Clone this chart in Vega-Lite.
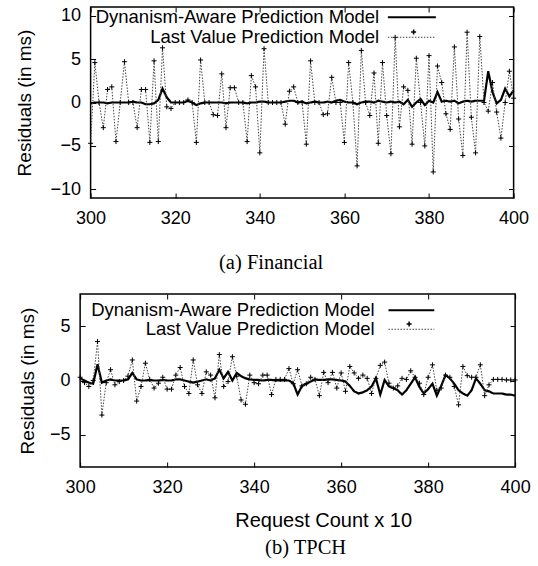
{
  "$schema": "https://vega.github.io/schema/vega-lite/v6.json",
  "padding": {"left": 14, "top": 5, "right": 5, "bottom": 5},
  "background": "white",
  "config": {
    "font": "Liberation Sans",
    "view": {"stroke": "black", "strokeWidth": 1.5},
    "axis": {
      "domain": false,
      "grid": false,
      "ticks": true,
      "tickSize": -5,
      "tickColor": "black",
      "tickWidth": 1,
      "minExtent": 0,
      "labelFont": "Liberation Sans",
      "labelFontSize": 18,
      "labelColor": "black",
      "labelFlush": false,
      "labelOverlap": false,
      "titleFont": "Liberation Sans",
      "titleFontSize": 19,
      "titleFontWeight": "normal",
      "titleColor": "black"
    },
    "axisX": {"labelPadding": 16},
    "axisY": {"labelPadding": 15}
  },
  "datasets": {
    "fin": [
      {"x":300,"s":"DA","v":-0.1},{"x":301,"s":"DA","v":0},{"x":302,"s":"DA","v":0},{"x":303,"s":"DA","v":0},{"x":304,"s":"DA","v":-0.1},
      {"x":305,"s":"DA","v":0},{"x":306,"s":"DA","v":0},{"x":307,"s":"DA","v":0},{"x":308,"s":"DA","v":0},{"x":309,"s":"DA","v":0},
      {"x":310,"s":"DA","v":0.1},{"x":311,"s":"DA","v":0},{"x":312,"s":"DA","v":0},{"x":313,"s":"DA","v":-0.2},{"x":314,"s":"DA","v":-0.2},
      {"x":315,"s":"DA","v":-0.1},{"x":316,"s":"DA","v":0.3},{"x":317,"s":"DA","v":1.6},{"x":318,"s":"DA","v":0.6},{"x":319,"s":"DA","v":0},
      {"x":320,"s":"DA","v":0},{"x":321,"s":"DA","v":0},{"x":322,"s":"DA","v":0},{"x":323,"s":"DA","v":0.2},{"x":324,"s":"DA","v":0},
      {"x":325,"s":"DA","v":-0.3},{"x":326,"s":"DA","v":-0.1},{"x":327,"s":"DA","v":0},{"x":328,"s":"DA","v":0},{"x":329,"s":"DA","v":0},
      {"x":330,"s":"DA","v":0},{"x":331,"s":"DA","v":0},{"x":332,"s":"DA","v":-0.1},{"x":333,"s":"DA","v":0},{"x":334,"s":"DA","v":0},
      {"x":335,"s":"DA","v":0},{"x":336,"s":"DA","v":0},{"x":337,"s":"DA","v":-0.1},{"x":338,"s":"DA","v":0},{"x":339,"s":"DA","v":0},
      {"x":340,"s":"DA","v":0.1},{"x":341,"s":"DA","v":0.1},{"x":342,"s":"DA","v":0},{"x":343,"s":"DA","v":0},{"x":344,"s":"DA","v":0},
      {"x":345,"s":"DA","v":0},{"x":346,"s":"DA","v":0.1},{"x":347,"s":"DA","v":0.2},{"x":348,"s":"DA","v":0.2},{"x":349,"s":"DA","v":0},
      {"x":350,"s":"DA","v":0.1},{"x":351,"s":"DA","v":-0.1},{"x":352,"s":"DA","v":0},{"x":353,"s":"DA","v":0.1},{"x":354,"s":"DA","v":0},
      {"x":355,"s":"DA","v":0},{"x":356,"s":"DA","v":0.1},{"x":357,"s":"DA","v":0},{"x":358,"s":"DA","v":0.2},{"x":359,"s":"DA","v":0.3},
      {"x":360,"s":"DA","v":0.1},{"x":361,"s":"DA","v":0},{"x":362,"s":"DA","v":0},{"x":363,"s":"DA","v":-0.2},{"x":364,"s":"DA","v":0},
      {"x":365,"s":"DA","v":0.1},{"x":366,"s":"DA","v":0.1},{"x":367,"s":"DA","v":0},{"x":368,"s":"DA","v":0.2},{"x":369,"s":"DA","v":0.1},
      {"x":370,"s":"DA","v":0},{"x":371,"s":"DA","v":0.1},{"x":372,"s":"DA","v":0},{"x":373,"s":"DA","v":0.1},{"x":374,"s":"DA","v":-0.2},
      {"x":375,"s":"DA","v":0.3},{"x":376,"s":"DA","v":-0.5},{"x":377,"s":"DA","v":0},{"x":378,"s":"DA","v":0.4},{"x":379,"s":"DA","v":-0.3},
      {"x":380,"s":"DA","v":0.2},{"x":381,"s":"DA","v":0},{"x":382,"s":"DA","v":1.2},{"x":383,"s":"DA","v":0.1},{"x":384,"s":"DA","v":0.2},
      {"x":385,"s":"DA","v":0.1},{"x":386,"s":"DA","v":0.2},{"x":387,"s":"DA","v":-0.1},{"x":388,"s":"DA","v":0.1},{"x":389,"s":"DA","v":0.2},
      {"x":390,"s":"DA","v":0.1},{"x":391,"s":"DA","v":0.2},{"x":392,"s":"DA","v":0.2},{"x":393,"s":"DA","v":0.2},{"x":394,"s":"DA","v":3.6},
      {"x":395,"s":"DA","v":1.2},{"x":396,"s":"DA","v":-0.1},{"x":397,"s":"DA","v":0.3},{"x":398,"s":"DA","v":1.6},{"x":399,"s":"DA","v":0.7},
      {"x":400,"s":"DA","v":1.4},
      {"x":300,"s":"LV","v":-4.7},{"x":301,"s":"LV","v":4.6},{"x":302,"s":"LV","v":0},{"x":303,"s":"LV","v":-2.9},{"x":304,"s":"LV","v":1.5},
      {"x":305,"s":"LV","v":1.8},{"x":306,"s":"LV","v":-4.5},{"x":307,"s":"LV","v":0},{"x":308,"s":"LV","v":4.7},{"x":309,"s":"LV","v":0},
      {"x":310,"s":"LV","v":0},{"x":311,"s":"LV","v":-2.9},{"x":312,"s":"LV","v":1.5},{"x":313,"s":"LV","v":1.5},{"x":314,"s":"LV","v":-4.6},
      {"x":315,"s":"LV","v":4.8},{"x":316,"s":"LV","v":-4.5},{"x":317,"s":"LV","v":6.3},{"x":318,"s":"LV","v":-0.5},{"x":319,"s":"LV","v":-0.7},
      {"x":320,"s":"LV","v":0},{"x":321,"s":"LV","v":0},{"x":322,"s":"LV","v":0},{"x":323,"s":"LV","v":0.3},{"x":324,"s":"LV","v":0},
      {"x":325,"s":"LV","v":-4.6},{"x":326,"s":"LV","v":4.9},{"x":327,"s":"LV","v":0},{"x":328,"s":"LV","v":0},{"x":329,"s":"LV","v":-1.4},
      {"x":330,"s":"LV","v":-1.5},{"x":331,"s":"LV","v":3.3},{"x":332,"s":"LV","v":-2.9},{"x":333,"s":"LV","v":1.7},{"x":334,"s":"LV","v":1.7},
      {"x":335,"s":"LV","v":0},{"x":336,"s":"LV","v":0},{"x":337,"s":"LV","v":-4.5},{"x":338,"s":"LV","v":3.1},{"x":339,"s":"LV","v":1.8},
      {"x":340,"s":"LV","v":-5.8},{"x":341,"s":"LV","v":6.2},{"x":342,"s":"LV","v":0},{"x":343,"s":"LV","v":0},{"x":344,"s":"LV","v":0},
      {"x":345,"s":"LV","v":0},{"x":346,"s":"LV","v":-2.5},{"x":347,"s":"LV","v":1.3},{"x":348,"s":"LV","v":1.8},{"x":349,"s":"LV","v":0},
      {"x":350,"s":"LV","v":0},{"x":351,"s":"LV","v":-4.8},{"x":352,"s":"LV","v":4.8},{"x":353,"s":"LV","v":0},{"x":354,"s":"LV","v":0},
      {"x":355,"s":"LV","v":-1.4},{"x":356,"s":"LV","v":-1.3},{"x":357,"s":"LV","v":2.9},{"x":358,"s":"LV","v":0},{"x":359,"s":"LV","v":0},
      {"x":360,"s":"LV","v":-4.6},{"x":361,"s":"LV","v":4.6},{"x":362,"s":"LV","v":0},{"x":363,"s":"LV","v":-7.3},{"x":364,"s":"LV","v":6.0},
      {"x":365,"s":"LV","v":0},{"x":366,"s":"LV","v":-1.5},{"x":367,"s":"LV","v":3.4},{"x":368,"s":"LV","v":-4.7},{"x":369,"s":"LV","v":4.6},
      {"x":370,"s":"LV","v":-1.5},{"x":371,"s":"LV","v":-5.9},{"x":372,"s":"LV","v":7.5},{"x":373,"s":"LV","v":-2.8},{"x":374,"s":"LV","v":1.8},
      {"x":375,"s":"LV","v":1.4},{"x":376,"s":"LV","v":-4.8},{"x":377,"s":"LV","v":5.1},{"x":378,"s":"LV","v":0},{"x":379,"s":"LV","v":-5.0},
      {"x":380,"s":"LV","v":5.4},{"x":381,"s":"LV","v":-8.0},{"x":382,"s":"LV","v":4.2},{"x":383,"s":"LV","v":2.3},{"x":384,"s":"LV","v":-1.3},
      {"x":385,"s":"LV","v":-3.1},{"x":386,"s":"LV","v":6.4},{"x":387,"s":"LV","v":-1.9},{"x":388,"s":"LV","v":-6.1},{"x":389,"s":"LV","v":8.1},
      {"x":390,"s":"LV","v":-1.7},{"x":391,"s":"LV","v":-5.8},{"x":392,"s":"LV","v":7.6},{"x":393,"s":"LV","v":0},{"x":394,"s":"LV","v":-1.0},
      {"x":395,"s":"LV","v":2.3},{"x":396,"s":"LV","v":-1.1},{"x":397,"s":"LV","v":-4.1},{"x":398,"s":"LV","v":0},{"x":399,"s":"LV","v":3.6},
      {"x":400,"s":"LV","v":0.5}
    ],
    "tpch": [
      {"x":300,"s":"DA","v":0.2},{"x":301,"s":"DA","v":0},{"x":302,"s":"DA","v":-0.2},{"x":303,"s":"DA","v":-0.3},{"x":304,"s":"DA","v":1.5},
      {"x":305,"s":"DA","v":-0.2},{"x":306,"s":"DA","v":0},{"x":307,"s":"DA","v":0.1},{"x":308,"s":"DA","v":0},{"x":309,"s":"DA","v":0},
      {"x":310,"s":"DA","v":0},{"x":311,"s":"DA","v":0.1},{"x":312,"s":"DA","v":0.7},{"x":313,"s":"DA","v":0.1},{"x":314,"s":"DA","v":0},
      {"x":315,"s":"DA","v":0},{"x":316,"s":"DA","v":0.05},{"x":317,"s":"DA","v":0},{"x":318,"s":"DA","v":0},{"x":319,"s":"DA","v":0.05},
      {"x":320,"s":"DA","v":0},{"x":321,"s":"DA","v":0},{"x":322,"s":"DA","v":0.1},{"x":323,"s":"DA","v":0.1},{"x":324,"s":"DA","v":0},
      {"x":325,"s":"DA","v":-0.1},{"x":326,"s":"DA","v":-0.2},{"x":327,"s":"DA","v":-0.1},{"x":328,"s":"DA","v":0},{"x":329,"s":"DA","v":0.1},
      {"x":330,"s":"DA","v":0},{"x":331,"s":"DA","v":0.2},{"x":332,"s":"DA","v":1.0},{"x":333,"s":"DA","v":0.2},{"x":334,"s":"DA","v":0.8},
      {"x":335,"s":"DA","v":0},{"x":336,"s":"DA","v":0.7},{"x":337,"s":"DA","v":0.4},{"x":338,"s":"DA","v":0.2},{"x":339,"s":"DA","v":0.1},
      {"x":340,"s":"DA","v":0.05},{"x":341,"s":"DA","v":0.05},{"x":342,"s":"DA","v":0},{"x":343,"s":"DA","v":0.05},{"x":344,"s":"DA","v":0.05},
      {"x":345,"s":"DA","v":0},{"x":346,"s":"DA","v":0},{"x":347,"s":"DA","v":0},{"x":348,"s":"DA","v":0},{"x":349,"s":"DA","v":-0.25},
      {"x":350,"s":"DA","v":-1.3},{"x":351,"s":"DA","v":-0.5},{"x":352,"s":"DA","v":-0.3},{"x":353,"s":"DA","v":-0.1},{"x":354,"s":"DA","v":0.1},
      {"x":355,"s":"DA","v":0.05},{"x":356,"s":"DA","v":0.05},{"x":357,"s":"DA","v":0.1},{"x":358,"s":"DA","v":0.1},{"x":359,"s":"DA","v":0.05},
      {"x":360,"s":"DA","v":0},{"x":361,"s":"DA","v":-0.1},{"x":362,"s":"DA","v":-0.5},{"x":363,"s":"DA","v":-1.0},{"x":364,"s":"DA","v":-1.2},
      {"x":365,"s":"DA","v":-1.1},{"x":366,"s":"DA","v":-0.9},{"x":367,"s":"DA","v":-0.55},{"x":368,"s":"DA","v":0.2},{"x":369,"s":"DA","v":-1.3},
      {"x":370,"s":"DA","v":0.05},{"x":371,"s":"DA","v":-0.55},{"x":372,"s":"DA","v":-0.7},{"x":373,"s":"DA","v":-0.9},{"x":374,"s":"DA","v":-1.3},
      {"x":375,"s":"DA","v":-0.9},{"x":376,"s":"DA","v":-0.3},{"x":377,"s":"DA","v":0.3},{"x":378,"s":"DA","v":-0.6},{"x":379,"s":"DA","v":-1.2},
      {"x":380,"s":"DA","v":-0.8},{"x":381,"s":"DA","v":-0.3},{"x":382,"s":"DA","v":-1.4},{"x":383,"s":"DA","v":-0.5},{"x":384,"s":"DA","v":0.5},
      {"x":385,"s":"DA","v":0.2},{"x":386,"s":"DA","v":-0.3},{"x":387,"s":"DA","v":-0.9},{"x":388,"s":"DA","v":-1.2},{"x":389,"s":"DA","v":-1.4},
      {"x":390,"s":"DA","v":-0.9},{"x":391,"s":"DA","v":0.2},{"x":392,"s":"DA","v":-0.3},{"x":393,"s":"DA","v":-0.9},{"x":394,"s":"DA","v":-1.0},
      {"x":395,"s":"DA","v":-1.2},{"x":396,"s":"DA","v":-1.2},{"x":397,"s":"DA","v":-1.2},{"x":398,"s":"DA","v":-1.3},{"x":399,"s":"DA","v":-1.3},
      {"x":400,"s":"DA","v":-1.4},
      {"x":300,"s":"LV","v":0.3},{"x":301,"s":"LV","v":-0.2},{"x":302,"s":"LV","v":-0.55},{"x":303,"s":"LV","v":0},{"x":304,"s":"LV","v":3.6},
      {"x":305,"s":"LV","v":-3.2},{"x":306,"s":"LV","v":-0.2},{"x":307,"s":"LV","v":1.0},{"x":308,"s":"LV","v":-0.4},{"x":309,"s":"LV","v":-0.1},
      {"x":310,"s":"LV","v":0},{"x":311,"s":"LV","v":0.4},{"x":312,"s":"LV","v":1.9},{"x":313,"s":"LV","v":-1.9},{"x":314,"s":"LV","v":-0.55},
      {"x":315,"s":"LV","v":1.6},{"x":316,"s":"LV","v":0.1},{"x":317,"s":"LV","v":-0.7},{"x":318,"s":"LV","v":-0.25},{"x":319,"s":"LV","v":0.3},
      {"x":320,"s":"LV","v":-0.8},{"x":321,"s":"LV","v":-0.8},{"x":322,"s":"LV","v":0.5},{"x":323,"s":"LV","v":1.2},{"x":324,"s":"LV","v":-0.55},
      {"x":325,"s":"LV","v":-1.2},{"x":326,"s":"LV","v":1.9},{"x":327,"s":"LV","v":-0.4},{"x":328,"s":"LV","v":-1.2},{"x":329,"s":"LV","v":0.8},
      {"x":330,"s":"LV","v":0.5},{"x":331,"s":"LV","v":-1.6},{"x":332,"s":"LV","v":2.4},{"x":333,"s":"LV","v":-0.55},{"x":334,"s":"LV","v":-0.1},
      {"x":335,"s":"LV","v":2.2},{"x":336,"s":"LV","v":0.4},{"x":337,"s":"LV","v":-1.8},{"x":338,"s":"LV","v":-2.2},{"x":339,"s":"LV","v":0.5},
      {"x":340,"s":"LV","v":-0.2},{"x":341,"s":"LV","v":-0.3},{"x":342,"s":"LV","v":0.5},{"x":343,"s":"LV","v":0.5},{"x":344,"s":"LV","v":-1.3},
      {"x":345,"s":"LV","v":0.1},{"x":346,"s":"LV","v":0.1},{"x":347,"s":"LV","v":0.1},{"x":348,"s":"LV","v":1.1},{"x":349,"s":"LV","v":-0.3},
      {"x":350,"s":"LV","v":1.0},{"x":351,"s":"LV","v":-0.5},{"x":352,"s":"LV","v":-0.3},{"x":353,"s":"LV","v":0.3},{"x":354,"s":"LV","v":0.1},
      {"x":355,"s":"LV","v":-1.4},{"x":356,"s":"LV","v":0.75},{"x":357,"s":"LV","v":-0.2},{"x":358,"s":"LV","v":0.75},{"x":359,"s":"LV","v":-0.7},
      {"x":360,"s":"LV","v":0.7},{"x":361,"s":"LV","v":-1.0},{"x":362,"s":"LV","v":1.3},{"x":363,"s":"LV","v":0.7},{"x":364,"s":"LV","v":0.2},
      {"x":365,"s":"LV","v":0.5},{"x":366,"s":"LV","v":0.2},{"x":367,"s":"LV","v":-1.2},{"x":368,"s":"LV","v":0.2},{"x":369,"s":"LV","v":1.4},
      {"x":370,"s":"LV","v":1.7},{"x":371,"s":"LV","v":-0.25},{"x":372,"s":"LV","v":-0.7},{"x":373,"s":"LV","v":-0.5},{"x":374,"s":"LV","v":0.2},
      {"x":375,"s":"LV","v":0.1},{"x":376,"s":"LV","v":0.9},{"x":377,"s":"LV","v":0.3},{"x":378,"s":"LV","v":-0.25},{"x":379,"s":"LV","v":-1.3},
      {"x":380,"s":"LV","v":0.3},{"x":381,"s":"LV","v":1.45},{"x":382,"s":"LV","v":-0.9},{"x":383,"s":"LV","v":-0.7},{"x":384,"s":"LV","v":0.5},
      {"x":385,"s":"LV","v":0.3},{"x":386,"s":"LV","v":-0.55},{"x":387,"s":"LV","v":-2.25},{"x":388,"s":"LV","v":1.3},{"x":389,"s":"LV","v":0.45},
      {"x":390,"s":"LV","v":0.3},{"x":391,"s":"LV","v":0.3},{"x":392,"s":"LV","v":1.45},{"x":393,"s":"LV","v":-1.4},{"x":394,"s":"LV","v":-0.4},
      {"x":395,"s":"LV","v":0.1},{"x":396,"s":"LV","v":0.1},{"x":397,"s":"LV","v":0.1},{"x":398,"s":"LV","v":0.05},{"x":399,"s":"LV","v":0.05},
      {"x":400,"s":"LV","v":0.05}
    ]
  },
  "concat": [
    {
      "width": 423,
      "height": 191,
      "data": {"name": "fin"},
      "title": {"text": "(a) Financial", "orient": "bottom", "font": "Liberation Serif", "fontSize": 20.5, "fontWeight": "normal", "color": "black", "offset": 26, "dx": -31},
      "layer": [
        {
          "mark": {"type": "line", "strokeJoin": "miter"},
          "encoding": {
            "x": {"field": "x", "type": "quantitative", "scale": {"domain": [300, 400], "nice": false}, "axis": {"values": [300, 320, 340, 360, 380, 400], "title": null}},
            "y": {"field": "v", "type": "quantitative", "scale": {"domain": [-11, 11], "nice": false}, "axis": {"values": [-10, -5, 0, 5, 10], "title": "Residuals (in ms)", "titlePadding": 16}},
            "color": {"field": "s", "type": "nominal", "scale": {"domain": ["DA", "LV"], "range": ["#000000", "#444444"]},
              "legend": {"orient": "none", "legendX": 312, "legendY": 1, "title": null, "padding": 0, "rowPadding": 1, "symbolType": "M-5,0L5,0", "symbolSize": 92, "labelAlign": "right", "labelOffset": -42, "labelFontSize": 18.5, "labelFont": "Liberation Sans", "labelColor": "black", "labelLimit": 0,
                "labelExpr": "datum.value === 'DA' ? 'Dynanism-Aware Prediction Model' : 'Last Value Prediction Model'"}},
            "strokeDash": {"field": "s", "type": "nominal", "scale": {"domain": ["DA", "LV"], "range": [[1, 0], [1.5, 1.5]]}},
            "strokeWidth": {"field": "s", "type": "nominal", "scale": {"domain": ["DA", "LV"], "range": [2.2, 1]}}
          }
        },
        {
          "transform": [{"filter": "datum.s === 'LV'"}],
          "mark": {"type": "point", "filled": false, "stroke": "black", "strokeWidth": 1, "opacity": 1},
          "encoding": {
            "x": {"field": "x", "type": "quantitative", "axis": null},
            "y": {"field": "v", "type": "quantitative", "axis": null},
            "shape": {"field": "s", "type": "nominal", "scale": {"domain": ["LV"], "range": ["M-1,0L1,0M0,-1L0,1"]},
              "legend": {"orient": "none", "legendX": 318, "legendY": 20, "title": null, "padding": 0, "symbolSize": 25, "symbolStrokeColor": "black", "labelExpr": "''"}},
            "size": {"value": 25}
          }
        },
        {
          "mark": {"type": "line", "opacity": 0},
          "encoding": {
            "x": {"field": "x", "type": "quantitative", "axis": {"orient": "top", "labels": false, "title": null, "values": [300, 320, 340, 360, 380, 400]}},
            "y": {"field": "v", "type": "quantitative", "axis": {"orient": "right", "labels": false, "title": null, "values": [-10, -5, 0, 5, 10], "minExtent": 0}}
          }
        }
      ],
      "resolve": {"axis": {"x": "independent", "y": "independent"}}
    },
    {
      "width": 435,
      "height": 173,
      "data": {"name": "tpch"},
      "title": {"text": "(b) TPCH", "orient": "bottom", "font": "Liberation Serif", "fontSize": 20.5, "fontWeight": "normal", "color": "black", "offset": 8, "dx": 8},
      "layer": [
        {
          "mark": {"type": "line", "strokeJoin": "miter"},
          "encoding": {
            "x": {"field": "x", "type": "quantitative", "scale": {"domain": [300, 400], "nice": false}, "axis": {"values": [300, 320, 340, 360, 380, 400], "title": "Request Count x 10", "titleFontSize": 20, "titlePadding": 14, "titleX": 243}},
            "y": {"field": "v", "type": "quantitative", "scale": {"domain": [-8, 8], "nice": false}, "axis": {"values": [-5, 0, 5], "title": "Residuals (in ms)", "titlePadding": 12}},
            "color": {"field": "s", "type": "nominal", "scale": {"domain": ["DA", "LV"], "range": ["#000000", "#444444"]},
              "legend": {"orient": "none", "legendX": 322, "legendY": 7, "title": null, "padding": 0, "rowPadding": 0, "symbolType": "M-5,0L5,0", "symbolSize": 84, "labelAlign": "right", "labelOffset": -46, "labelFontSize": 18.5, "labelFont": "Liberation Sans", "labelColor": "black", "labelLimit": 0,
                "labelExpr": "datum.value === 'DA' ? 'Dynanism-Aware Prediction Model' : 'Last Value Prediction Model'"}},
            "strokeDash": {"field": "s", "type": "nominal", "scale": {"domain": ["DA", "LV"], "range": [[1, 0], [1.5, 1.5]]}},
            "strokeWidth": {"field": "s", "type": "nominal", "scale": {"domain": ["DA", "LV"], "range": [2.2, 1]}}
          }
        },
        {
          "transform": [{"filter": "datum.s === 'LV'"}],
          "mark": {"type": "point", "filled": false, "stroke": "black", "strokeWidth": 1, "opacity": 1},
          "encoding": {
            "x": {"field": "x", "type": "quantitative", "axis": null},
            "y": {"field": "v", "type": "quantitative", "axis": null},
            "shape": {"field": "s", "type": "nominal", "scale": {"domain": ["LV"], "range": ["M-1,0L1,0M0,-1L0,1"]},
              "legend": {"orient": "none", "legendX": 324, "legendY": 25, "title": null, "padding": 0, "symbolSize": 25, "symbolStrokeColor": "black", "labelExpr": "''"}},
            "size": {"value": 25}
          }
        },
        {
          "mark": {"type": "line", "opacity": 0},
          "encoding": {
            "x": {"field": "x", "type": "quantitative", "axis": {"orient": "top", "labels": false, "title": null, "values": [300, 320, 340, 360, 380, 400]}},
            "y": {"field": "v", "type": "quantitative", "axis": {"orient": "right", "labels": false, "title": null, "values": [-5, 0, 5], "minExtent": 24}}
          }
        }
      ],
      "resolve": {"axis": {"x": "independent", "y": "independent"}}
    }
  ],
  "columns": 1,
  "center": true,
  "spacing": 17,
  "resolve": {"scale": {"color": "independent", "strokeDash": "independent", "strokeWidth": "independent", "shape": "independent"}, "legend": {"color": "independent", "strokeDash": "independent", "strokeWidth": "independent", "shape": "independent"}}
}
